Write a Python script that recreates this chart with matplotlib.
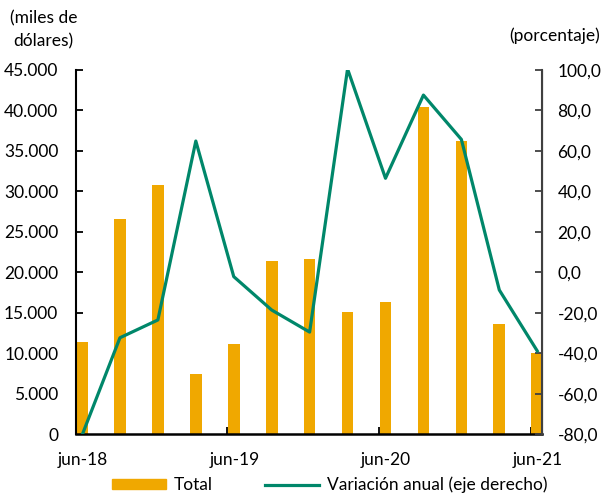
import numpy as np
import matplotlib
matplotlib.use("Agg")
import matplotlib.pyplot as plt
import matplotlib.transforms as mtransforms
from matplotlib.patches import Patch
from matplotlib.lines import Line2D

plt.rcParams['font.family'] = ['Lato', 'DejaVu Sans']

### data ######################################################################
quarters = ['jun-18', 'sep-18', 'dic-18', 'mar-19', 'jun-19', 'sep-19', 'dic-19',
            'mar-20', 'jun-20', 'sep-20', 'dic-20', 'mar-21', 'jun-21']
total = [11400, 26600, 30800, 7450, 11100, 21450, 21700,
         15100, 16300, 40400, 36200, 13600, 10100]
variacion = [-80.5, -32.3, -23.5, 64.9, -2.1, -18.6, -29.5,
             100.5, 46.5, 87.6, 65.7, -8.7, -38.8]
xtick_labels = ['jun-18', 'jun-19', 'jun-20', 'jun-21']

orange = '#F0A800'
green = '#00876A'
fs = 12.5

# month index: each quarter is 3 months apart, mark in middle of its month
xpos = np.arange(len(quarters)) * 3 + 0.5

### plot ######################################################################
fig = plt.figure(figsize=(6.07, 4.96), dpi=100)
ax = fig.add_axes([0.1247, 0.1244, 0.7687, 0.7345])
ax2 = ax.twinx()

ax.bar(xpos, total, width=0.92, color=orange, zorder=2)
ax2.plot(xpos, variacion, color=green, lw=2.3, zorder=3, clip_on=True)

ax.set_xlim(0, 36.9)
ax.set_ylim(0, 45000)
ax2.set_ylim(-80, 100)

ax.set_yticks(np.arange(0, 45001, 5000))
ax.set_yticklabels([f"{v:,}".replace(',', '.') for v in range(0, 45001, 5000)])
ax2.set_yticks(np.arange(-80, 101, 20))
ax2.set_yticklabels([f"{v:.1f}".replace('.', ',') for v in range(-80, 101, 20)])
ax.set_xticks([0, 12, 24, 36])
ax.set_xticklabels(xtick_labels)

ax.tick_params(axis='y', direction='in', length=5, width=1.3, pad=12.5,
               labelsize=fs, colors='black')
ax.tick_params(axis='x', direction='in', length=5, width=1.3, pad=12.5,
               labelsize=fs)
ax2.tick_params(axis='y', direction='in', length=5, width=1.3, pad=11,
                labelsize=fs, color='#404040')

# date labels sit a bit right of their tick (centre of the month slot)
shift = mtransforms.ScaledTranslation(7 / 100, 0, fig.dpi_scale_trans)
for lab in ax.get_xticklabels():
    lab.set_transform(lab.get_transform() + shift)

for a in (ax, ax2):
    a.spines['top'].set_visible(False)
ax.spines['left'].set_linewidth(1.5)
ax.spines['bottom'].set_linewidth(1.8)
ax2.spines['left'].set_visible(False)
ax2.spines['bottom'].set_visible(False)
ax2.spines['right'].set_linewidth(1.5)
ax2.spines['right'].set_color('#404040')

fig.text(0.072, 0.94, '(miles de\ndólares)', ha='center', va='center',
         fontsize=fs, linespacing=1.55)
fig.text(0.914, 0.928, '(porcentaje)', ha='center', va='center', fontsize=fs)

handles = [Patch(color=orange), Line2D([], [], color=green, lw=2.3)]
fig.legend(handles, ['Total', 'Variación anual (eje derecho)'], ncol=2,
           loc='center', bbox_to_anchor=(0.543, 0.022), frameon=False,
           fontsize=fs, handlelength=3.1, handleheight=0.55,
           handletextpad=0.45, columnspacing=3.0)

fig.savefig('out.png', dpi=100)
